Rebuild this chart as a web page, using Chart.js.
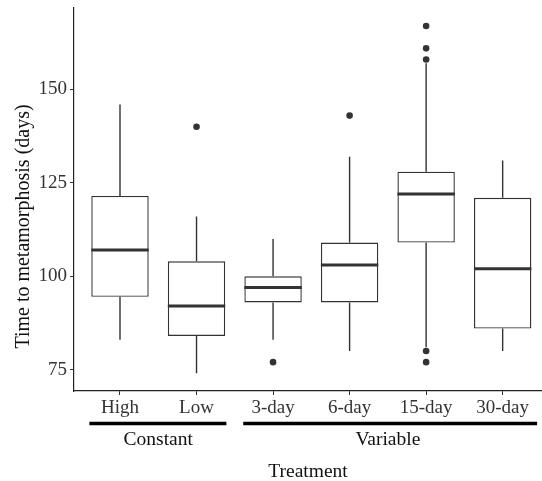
<!DOCTYPE html>
<html><head><meta charset="utf-8">
<script src="https://cdn.jsdelivr.net/npm/chart.js@4/dist/chart.umd.min.js"></script>
<style>html,body{margin:0;padding:0;background:#fff}#wrap{width:542px;height:481px}</style>
</head><body><div id="wrap"><canvas id="c" width="542" height="481"></canvas></div>
<script>
// ---- data ----
const categories = ['High', 'Low', '3-day', '6-day', '15-day', '30-day'];
const whiskerLow = [83, 74, 83, 80, 81, 80];
const q1 = [94.5, 84, 93, 93, 109, 86];
const medians = [107, 92, 97, 103, 122, 102];
const q3 = [121.5, 104, 100, 109, 128, 121];
const whiskerHigh = [146, 116, 110, 132, 157, 131];
const outliers = [[], [140], [77], [143], [167, 161, 158, 80, 77], []];
const yTicks = [75, 100, 125, 150];
const yTitle = 'Time to metamorphosis (days)';
const xTitle = 'Treatment';
const groupNames = ['Constant', 'Variable'];
const groupFirst = [0, 2];
const groupLast = [1, 5];

// ---- chart ----
const FONT = "'Liberation Serif', 'Times New Roman', serif";
const INK = '#333333';
const boxData = categories.map((c, i) => ({x: i, y: [q1[i], q3[i]]}));
const outlierData = outliers.flatMap((arr, i) => arr.map(v => ({x: i, y: v})));

const boxParts = {
  id: 'boxParts',
  beforeDatasetsDraw(chart) {
    const {ctx, scales: {x, y}} = chart;
    ctx.save();
    ctx.strokeStyle = INK; ctx.lineWidth = 1.4;
    categories.forEach((c, i) => {
      const px = x.getPixelForValue(i);
      ctx.beginPath();
      ctx.moveTo(px, y.getPixelForValue(q3[i])); ctx.lineTo(px, y.getPixelForValue(whiskerHigh[i]));
      ctx.moveTo(px, y.getPixelForValue(q1[i])); ctx.lineTo(px, y.getPixelForValue(whiskerLow[i]));
      ctx.stroke();
    });
    ctx.restore();
  },
  afterDatasetsDraw(chart) {
    const {ctx, scales: {y}} = chart;
    const meta = chart.getDatasetMeta(0);
    ctx.save();
    ctx.strokeStyle = INK; ctx.lineWidth = 3;
    meta.data.forEach((bar, i) => {
      const py = y.getPixelForValue(medians[i]);
      ctx.beginPath();
      ctx.moveTo(bar.x - bar.width / 2, py); ctx.lineTo(bar.x + bar.width / 2, py);
      ctx.stroke();
    });
    ctx.restore();
  },
  afterDraw(chart, args, opts) {
    const {ctx, chartArea, scales: {x}} = chart;
    ctx.save();
    groupNames.forEach((g, k) => {
      const a = x.getPixelForValue(groupFirst[k] - opts.pad[k][0]);
      const b = x.getPixelForValue(groupLast[k] + opts.pad[k][1]);
      const ly = x.top + opts.lineOffset;
      ctx.strokeStyle = '#000'; ctx.lineWidth = 3.3;
      ctx.beginPath(); ctx.moveTo(a, ly); ctx.lineTo(b, ly); ctx.stroke();
      const cx = (x.getPixelForValue(groupFirst[k]) + x.getPixelForValue(groupLast[k])) / 2;
      ctx.fillStyle = '#111';
      ctx.font = '19.5px ' + FONT;
      ctx.textAlign = 'center'; ctx.textBaseline = 'middle';
      ctx.fillText(g, cx, x.top + opts.labelOffset);
    });
    // y axis title
    ctx.translate(opts.yTitleX, (chartArea.top + chartArea.bottom) / 2 + opts.yTitleShift);
    ctx.rotate(-Math.PI / 2);
    ctx.font = '20px ' + FONT;
    ctx.fillStyle = '#111';
    ctx.textAlign = 'center'; ctx.textBaseline = 'middle';
    ctx.fillText(yTitle, 0, 0);
    ctx.restore();
  }
};

new Chart(document.getElementById('c'), {
  type: 'bar',
  data: {
    datasets: [
      {type: 'bar', data: boxData, backgroundColor: '#ffffff', borderColor: INK, borderWidth: 1.4,
       borderSkipped: false, categoryPercentage: 1, barPercentage: 0.75},
      {type: 'scatter', data: outlierData, pointRadius: 3.3, pointBackgroundColor: INK,
       pointBorderWidth: 0, showLine: false}
    ]
  },
  options: {
    responsive: false, animation: false, devicePixelRatio: 1,
    layout: {autoPadding: false, padding: {top: 8, right: 0, bottom: 0, left: 0}},
    plugins: {legend: {display: false}, tooltip: {enabled: false},
      boxParts: {pad: [[0.4, 0.39], [0.39, 0.45]], lineOffset: 32.5, labelOffset: 48.5,
                 yTitleX: 24, yTitleShift: 27}},
    scales: {
      x: {
        type: 'linear', min: -0.601, max: 5.514, offset: false,
        afterBuildTicks: a => { a.ticks = categories.map((c, i) => ({value: i})); },
        afterFit: a => { a.height = 90; a.paddingLeft = 0; a.paddingRight = 0; },
        ticks: {callback: v => categories[v], font: {family: FONT, size: 19}, color: INK,
                padding: 2, maxRotation: 0, autoSkip: false},
        grid: {drawOnChartArea: false, drawTicks: true, tickLength: 4, color: INK, offset: false},
        border: {display: true, color: '#222', width: 1.2},
        title: {display: true, text: xTitle, font: {family: FONT, size: 19.5, lineHeight: 0.9},
                color: '#111', padding: {top: 0, bottom: 0}}
      },
      y: {
        type: 'linear', min: 69.28, max: 171.8, beginAtZero: false,
        afterBuildTicks: a => { a.ticks = yTicks.map(v => ({value: v})); },
        afterFit: a => { a.width = 74; a.paddingTop = 0; a.paddingBottom = 0; },
        ticks: {font: {family: FONT, size: 19}, color: INK, padding: 3},
        grid: {drawOnChartArea: false, drawTicks: true, tickLength: 4, color: INK},
        border: {display: true, color: '#222', width: 1.2},
        title: {display: false}
      }
    }
  },
  plugins: [boxParts]
});
</script></body></html>
